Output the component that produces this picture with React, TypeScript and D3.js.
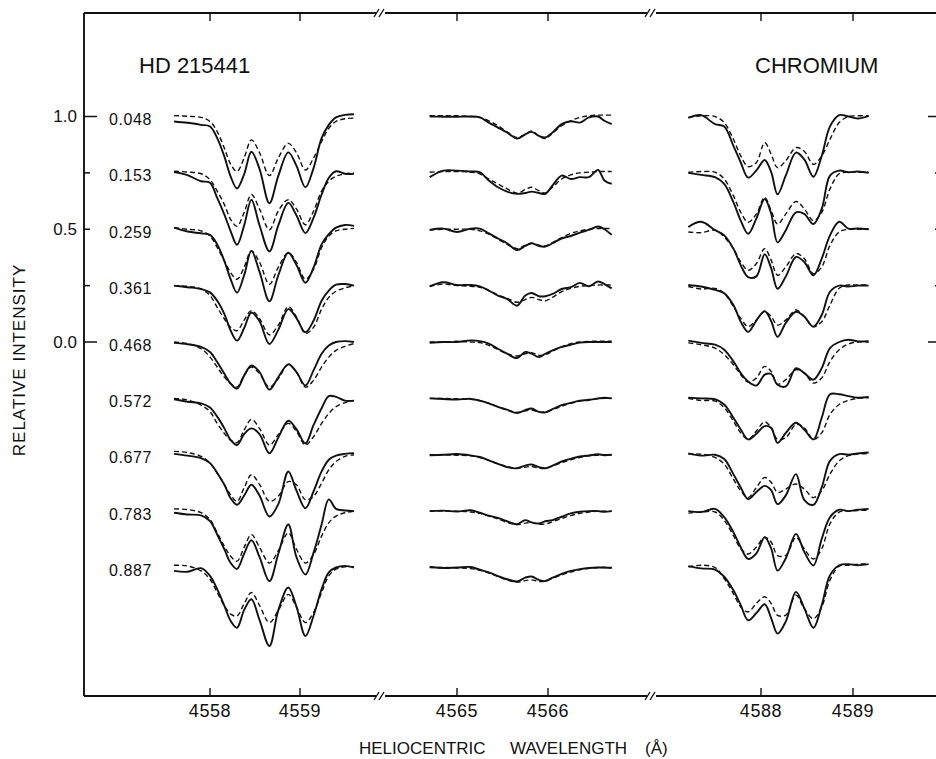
import React from 'react';
import * as d3 from 'd3';

// rotational phases, one spectrum per phase, top to bottom
const phases = ['0.048', '0.153', '0.259', '0.361', '0.468', '0.572', '0.677', '0.783', '0.887'];

// wavelength grids (Angstrom) of the three windows
const leftWave = [4557.60, 4557.75, 4557.90, 4558.00, 4558.08, 4558.16, 4558.23, 4558.30, 4558.38, 4558.46, 4558.55,
  4558.66, 4558.76, 4558.87, 4558.96, 4559.06, 4559.15, 4559.24, 4559.32, 4559.40, 4559.50, 4559.60];
const midWave = [4564.70, 4564.85, 4565.00, 4565.15, 4565.25, 4565.35, 4565.45, 4565.55, 4565.66, 4565.75, 4565.82,
  4565.90, 4565.97, 4566.05, 4566.15, 4566.25, 4566.35, 4566.45, 4566.55, 4566.62, 4566.70];
const rightWave = [4587.21, 4587.35, 4587.50, 4587.60, 4587.70, 4587.78, 4587.86, 4587.95, 4588.04, 4588.11, 4588.18,
  4588.27, 4588.38, 4588.47, 4588.57, 4588.66, 4588.75, 4588.85, 4588.95, 4589.05, 4589.17];

// observed (solid) and computed (dashed) relative intensities
const leftObs = [
  [0.978, 0.972, 0.963, 0.956, 0.904, 0.822, 0.733, 0.681, 0.745, 0.844, 0.768, 0.615, 0.738, 0.841, 0.782, 0.686, 0.770, 0.904, 0.963, 0.996, 1.007, 1.010],
  [1.004, 0.990, 0.963, 0.956, 0.889, 0.815, 0.741, 0.681, 0.768, 0.881, 0.768, 0.652, 0.768, 0.867, 0.812, 0.733, 0.800, 0.904, 0.978, 1.007, 0.996, 0.996],
  [1.007, 0.990, 0.982, 0.975, 0.933, 0.859, 0.778, 0.719, 0.797, 0.904, 0.812, 0.681, 0.797, 0.896, 0.842, 0.763, 0.830, 0.933, 0.978, 1.007, 1.019, 1.015],
  [1.000, 0.993, 0.985, 0.970, 0.933, 0.874, 0.800, 0.756, 0.812, 0.881, 0.842, 0.741, 0.805, 0.896, 0.856, 0.793, 0.844, 0.933, 0.978, 1.004, 1.007, 1.000],
  [0.996, 0.990, 0.978, 0.956, 0.911, 0.859, 0.815, 0.793, 0.852, 0.896, 0.867, 0.789, 0.845, 0.901, 0.867, 0.807, 0.874, 0.948, 0.985, 1.000, 1.004, 1.000],
  [0.996, 0.985, 0.978, 0.960, 0.919, 0.867, 0.815, 0.793, 0.842, 0.867, 0.842, 0.756, 0.827, 0.901, 0.864, 0.800, 0.881, 0.956, 1.010, 1.007, 0.990, 0.990],
  [1.004, 0.996, 0.985, 0.963, 0.919, 0.867, 0.807, 0.778, 0.819, 0.867, 0.819, 0.726, 0.782, 0.926, 0.842, 0.763, 0.837, 0.926, 0.978, 0.996, 1.004, 1.007],
  [0.993, 0.985, 0.981, 0.956, 0.896, 0.830, 0.770, 0.744, 0.812, 0.871, 0.797, 0.689, 0.812, 0.941, 0.797, 0.719, 0.815, 0.941, 1.052, 1.010, 1.003, 1.000],
  [0.985, 0.981, 0.997, 0.963, 0.904, 0.830, 0.763, 0.733, 0.812, 0.859, 0.768, 0.652, 0.812, 0.911, 0.827, 0.696, 0.785, 0.904, 0.978, 1.000, 1.007, 1.000],
];
const leftFit = [
  [1.004, 1.001, 0.996, 0.978, 0.933, 0.859, 0.788, 0.756, 0.817, 0.896, 0.840, 0.738, 0.817, 0.881, 0.840, 0.763, 0.815, 0.889, 0.948, 0.978, 0.990, 0.993],
  [1.007, 1.004, 0.996, 0.970, 0.919, 0.859, 0.793, 0.763, 0.825, 0.904, 0.840, 0.748, 0.832, 0.881, 0.840, 0.770, 0.830, 0.919, 0.963, 0.985, 0.996, 1.000],
  [1.007, 1.000, 0.993, 0.970, 0.919, 0.859, 0.807, 0.778, 0.832, 0.904, 0.854, 0.756, 0.832, 0.896, 0.854, 0.778, 0.822, 0.919, 0.970, 0.993, 1.000, 1.004],
  [1.000, 0.997, 0.985, 0.956, 0.904, 0.852, 0.815, 0.800, 0.847, 0.889, 0.854, 0.782, 0.825, 0.907, 0.862, 0.788, 0.815, 0.896, 0.948, 0.975, 0.990, 1.000],
  [1.000, 0.993, 0.970, 0.933, 0.889, 0.844, 0.815, 0.800, 0.852, 0.889, 0.860, 0.800, 0.838, 0.901, 0.867, 0.800, 0.830, 0.889, 0.933, 0.963, 0.981, 0.993],
  [1.000, 0.993, 0.970, 0.941, 0.889, 0.844, 0.815, 0.804, 0.860, 0.907, 0.867, 0.793, 0.840, 0.889, 0.854, 0.793, 0.830, 0.889, 0.933, 0.963, 0.981, 0.990],
  [1.015, 1.010, 0.993, 0.963, 0.919, 0.867, 0.822, 0.793, 0.854, 0.911, 0.869, 0.793, 0.817, 0.881, 0.867, 0.800, 0.815, 0.874, 0.933, 0.970, 0.993, 1.000],
  [1.010, 1.007, 0.993, 0.963, 0.904, 0.844, 0.800, 0.778, 0.840, 0.896, 0.840, 0.770, 0.825, 0.904, 0.832, 0.770, 0.807, 0.889, 0.948, 0.978, 0.993, 1.000],
  [1.010, 1.007, 0.985, 0.948, 0.889, 0.830, 0.793, 0.785, 0.840, 0.889, 0.832, 0.756, 0.810, 0.881, 0.825, 0.756, 0.800, 0.889, 0.963, 0.993, 1.003, 1.003],
];

const midObs = [
  [1.000, 0.999, 0.999, 1.000, 0.996, 0.973, 0.951, 0.929, 0.902, 0.921, 0.932, 0.914, 0.907, 0.929, 0.966, 0.979, 0.973, 0.996, 1.000, 0.981, 0.966],
  [0.981, 1.010, 1.010, 1.006, 1.003, 0.966, 0.936, 0.917, 0.907, 0.911, 0.917, 0.911, 0.907, 0.944, 0.988, 0.973, 0.981, 0.981, 1.013, 0.966, 0.951],
  [0.997, 1.003, 0.988, 1.003, 1.003, 0.982, 0.959, 0.938, 0.908, 0.926, 0.938, 0.926, 0.923, 0.938, 0.959, 0.970, 0.985, 0.997, 1.012, 1.000, 0.975],
  [0.997, 1.015, 1.003, 1.003, 0.997, 0.978, 0.956, 0.941, 0.911, 0.956, 0.967, 0.953, 0.953, 0.963, 0.985, 0.993, 1.012, 0.997, 1.018, 1.007, 0.988],
  [0.997, 1.000, 1.000, 1.007, 1.004, 0.993, 0.970, 0.948, 0.929, 0.956, 0.948, 0.933, 0.948, 0.963, 0.978, 0.988, 0.997, 1.000, 1.000, 1.000, 1.000],
  [1.000, 0.997, 0.995, 0.998, 0.990, 0.978, 0.962, 0.950, 0.935, 0.948, 0.955, 0.940, 0.938, 0.952, 0.970, 0.980, 0.990, 0.993, 1.000, 1.003, 1.000],
  [0.998, 1.000, 1.003, 0.997, 0.990, 0.975, 0.960, 0.945, 0.940, 0.952, 0.957, 0.945, 0.940, 0.952, 0.970, 0.982, 0.992, 0.997, 1.002, 0.998, 1.000],
  [1.000, 1.002, 0.998, 1.004, 0.993, 0.980, 0.970, 0.955, 0.942, 0.960, 0.950, 0.945, 0.955, 0.960, 0.975, 0.990, 0.997, 1.000, 1.000, 0.997, 1.000],
  [1.002, 0.998, 1.000, 1.002, 0.990, 0.978, 0.962, 0.948, 0.938, 0.955, 0.960, 0.945, 0.940, 0.955, 0.972, 0.985, 0.993, 0.998, 1.000, 1.000, 0.998],
];
const midFit = [
  [1.003, 1.003, 1.003, 1.000, 0.996, 0.981, 0.959, 0.932, 0.907, 0.921, 0.936, 0.914, 0.902, 0.926, 0.959, 0.981, 0.996, 1.003, 1.006, 1.006, 1.006],
  [1.003, 1.006, 1.006, 1.003, 0.996, 0.973, 0.951, 0.929, 0.910, 0.926, 0.936, 0.921, 0.911, 0.936, 0.973, 0.991, 1.000, 1.003, 1.006, 1.006, 1.006],
  [0.997, 1.000, 1.000, 1.000, 0.993, 0.978, 0.956, 0.933, 0.914, 0.929, 0.938, 0.929, 0.926, 0.941, 0.963, 0.982, 0.993, 1.000, 1.003, 1.003, 1.003],
  [0.997, 1.007, 1.000, 0.997, 0.993, 0.978, 0.959, 0.944, 0.926, 0.938, 0.948, 0.938, 0.933, 0.948, 0.973, 0.988, 0.997, 1.000, 1.003, 1.003, 1.003],
  [1.000, 1.000, 1.003, 1.000, 0.997, 0.985, 0.967, 0.948, 0.938, 0.948, 0.953, 0.941, 0.944, 0.959, 0.978, 0.993, 1.000, 1.003, 1.003, 1.003, 1.003],
  [1.000, 1.000, 0.998, 0.996, 0.990, 0.978, 0.963, 0.948, 0.938, 0.945, 0.948, 0.940, 0.940, 0.950, 0.965, 0.978, 0.988, 0.995, 0.998, 1.000, 1.000],
  [1.000, 1.000, 0.998, 0.995, 0.988, 0.975, 0.960, 0.948, 0.940, 0.945, 0.948, 0.940, 0.940, 0.950, 0.965, 0.978, 0.988, 0.995, 0.998, 1.000, 1.000],
  [1.000, 1.000, 1.000, 0.996, 0.990, 0.978, 0.965, 0.950, 0.940, 0.947, 0.950, 0.942, 0.943, 0.953, 0.967, 0.980, 0.990, 0.996, 1.000, 1.000, 1.000],
  [1.000, 1.000, 0.998, 0.995, 0.988, 0.975, 0.960, 0.945, 0.935, 0.942, 0.945, 0.938, 0.940, 0.952, 0.967, 0.980, 0.990, 0.996, 1.000, 1.000, 1.000],
];

const rightObs = [
  [0.994, 1.006, 0.966, 0.956, 0.870, 0.796, 0.729, 0.761, 0.807, 0.754, 0.655, 0.739, 0.840, 0.810, 0.733, 0.825, 0.956, 1.006, 1.000, 0.991, 1.003],
  [1.000, 0.991, 0.981, 0.951, 0.870, 0.788, 0.730, 0.798, 0.884, 0.820, 0.692, 0.746, 0.825, 0.818, 0.773, 0.840, 0.988, 1.010, 1.003, 1.006, 1.000],
  [1.010, 1.033, 0.996, 0.973, 0.914, 0.840, 0.788, 0.791, 0.889, 0.828, 0.736, 0.791, 0.877, 0.855, 0.796, 0.870, 0.973, 1.033, 1.003, 1.003, 1.000],
  [1.003, 0.996, 0.981, 0.966, 0.914, 0.840, 0.795, 0.845, 0.887, 0.843, 0.773, 0.835, 0.884, 0.863, 0.818, 0.870, 0.973, 1.000, 0.996, 1.000, 1.000],
  [1.006, 0.996, 0.988, 0.966, 0.914, 0.862, 0.825, 0.807, 0.855, 0.858, 0.810, 0.803, 0.884, 0.862, 0.833, 0.884, 0.973, 1.000, 1.010, 1.003, 1.003],
  [1.003, 1.000, 0.996, 0.973, 0.914, 0.862, 0.818, 0.843, 0.877, 0.870, 0.803, 0.847, 0.892, 0.862, 0.818, 0.914, 1.018, 1.018, 1.010, 1.003, 1.006],
  [1.006, 0.996, 1.000, 0.981, 0.914, 0.855, 0.803, 0.835, 0.862, 0.843, 0.781, 0.820, 0.914, 0.800, 0.778, 0.855, 0.973, 1.003, 1.000, 1.006, 1.010],
  [1.000, 0.996, 1.010, 0.973, 0.907, 0.840, 0.788, 0.813, 0.884, 0.835, 0.736, 0.791, 0.899, 0.820, 0.759, 0.877, 0.973, 1.006, 1.000, 1.006, 1.010],
  [1.006, 0.996, 0.991, 0.959, 0.899, 0.833, 0.766, 0.798, 0.837, 0.776, 0.707, 0.761, 0.892, 0.820, 0.733, 0.833, 0.966, 1.010, 1.015, 1.010, 1.015],
];
const rightFit = [
  [0.996, 1.003, 1.000, 0.973, 0.899, 0.825, 0.778, 0.796, 0.884, 0.833, 0.773, 0.804, 0.862, 0.846, 0.788, 0.825, 0.899, 0.973, 1.000, 1.003, 1.003],
  [1.003, 1.006, 1.003, 0.973, 0.899, 0.825, 0.781, 0.818, 0.892, 0.833, 0.773, 0.818, 0.873, 0.841, 0.788, 0.825, 0.929, 0.996, 1.003, 1.003, 1.003],
  [0.988, 0.985, 0.996, 0.966, 0.914, 0.855, 0.818, 0.848, 0.914, 0.863, 0.796, 0.833, 0.892, 0.870, 0.803, 0.833, 0.929, 0.988, 1.000, 1.000, 1.000],
  [0.996, 0.985, 0.988, 0.966, 0.907, 0.855, 0.818, 0.848, 0.884, 0.863, 0.825, 0.848, 0.892, 0.863, 0.818, 0.840, 0.914, 0.988, 1.003, 1.003, 1.003],
  [0.996, 0.988, 0.973, 0.944, 0.899, 0.855, 0.822, 0.841, 0.892, 0.870, 0.813, 0.833, 0.877, 0.863, 0.818, 0.840, 0.914, 0.966, 0.991, 1.000, 1.000],
  [1.000, 0.991, 0.988, 0.959, 0.899, 0.847, 0.818, 0.855, 0.896, 0.870, 0.818, 0.826, 0.884, 0.870, 0.818, 0.847, 0.929, 0.973, 0.991, 1.000, 1.003],
  [1.003, 1.003, 0.988, 0.959, 0.892, 0.840, 0.810, 0.855, 0.899, 0.878, 0.833, 0.848, 0.870, 0.848, 0.810, 0.840, 0.914, 0.973, 0.996, 1.003, 1.006],
  [0.991, 0.996, 0.996, 0.959, 0.892, 0.833, 0.810, 0.841, 0.884, 0.863, 0.803, 0.804, 0.884, 0.833, 0.788, 0.833, 0.944, 0.996, 1.000, 1.003, 1.003],
  [1.003, 1.010, 1.000, 0.951, 0.884, 0.825, 0.803, 0.841, 0.870, 0.841, 0.788, 0.789, 0.877, 0.818, 0.773, 0.825, 0.944, 1.006, 1.010, 1.015, 1.015],
];

// axis ticks
const leftTicks = [4558, 4559];
const midTicks = [4565, 4566];
const rightTicks = [4588, 4589];
const yTicks = [1.0, 0.75, 0.5, 0.25, 0.0];
const yTickLabels = [1.0, 0.5, 0.0];

const STEP = 0.25; // vertical shift between consecutive phases

const W = 936;
const H = 759;
const LEFT = 84;
const RIGHT = 941;
const TOP = 13;
const BOTTOM = 696;
const BREAKS = [380, 651];
const FONT = '"Liberation Sans", Arial, Helvetica, sans-serif';

const yScale = d3.scaleLinear().domain([0, 1]).range([342, 116.5]);

const panels = [
  { key: 'l', wave: leftWave, obs: leftObs, fit: leftFit, ticks: leftTicks,
    x: d3.scaleLinear().domain([4558, 4559]).range([210, 300]) },
  { key: 'm', wave: midWave, obs: midObs, fit: midFit, ticks: midTicks,
    x: d3.scaleLinear().domain([4565, 4566]).range([457, 548]) },
  { key: 'r', wave: rightWave, obs: rightObs, fit: rightFit, ticks: rightTicks,
    x: d3.scaleLinear().domain([4588, 4589]).range([761, 853]) },
];

// frame pieces between the axis breaks
function brokenLine() {
  const segs = [];
  let start = LEFT;
  BREAKS.forEach((b) => {
    segs.push([start, b - 4]);
    start = b + 5;
  });
  segs.push([start, RIGHT]);
  return segs;
}

export default function App() {
  const ink = '#111';

  return (
    <svg width={W} height={H} style={{ position: 'absolute', left: 0, top: 0, background: '#fff' }}
      fontFamily={FONT}>
      <rect width={W} height={H} fill="#fff" />

      {[TOP, BOTTOM].map(y => (
        <g key={'f' + y}>
          {brokenLine().map(([a, b]) => (
            <line key={a} x1={a} x2={b} y1={y} y2={y} stroke={ink} strokeWidth={1.9} />
          ))}
          {BREAKS.map(b => (
            <g key={b}>
              <line x1={b - 6} y1={y + 4} x2={b - 1} y2={y - 4} stroke={ink} strokeWidth={1.4} />
              <line x1={b - 1} y1={y + 4} x2={b + 4} y2={y - 4} stroke={ink} strokeWidth={1.4} />
            </g>
          ))}
        </g>
      ))}
      <line x1={LEFT} x2={LEFT} y1={TOP} y2={BOTTOM} stroke={ink} strokeWidth={1.9} />
      <line x1={RIGHT} x2={RIGHT} y1={TOP} y2={BOTTOM} stroke={ink} strokeWidth={1.9} />

      {yTicks.map(t => {
        const long = t === 1 || t === 0;
        const len = long ? 13 : 6;
        const y = yScale(t);
        return (
          <g key={'yt' + t}>
            <line x1={LEFT} x2={LEFT + len} y1={y} y2={y} stroke={ink} strokeWidth={1.5} />
            <line x1={RIGHT - len} x2={RIGHT} y1={y} y2={y} stroke={ink} strokeWidth={1.5} />
          </g>
        );
      })}
      {yTickLabels.map(t => (
        <text key={'yl' + t} x={77} y={yScale(t)} dy="0.35em" textAnchor="end" fontSize={17} fill={ink}>
          {t.toFixed(1)}
        </text>
      ))}

      {panels.map(p => p.ticks.map(t => (
        <g key={p.key + t}>
          <line x1={p.x(t)} x2={p.x(t)} y1={BOTTOM} y2={BOTTOM - 8} stroke={ink} strokeWidth={1.4} />
          <line x1={p.x(t)} x2={p.x(t)} y1={TOP} y2={TOP + 8} stroke={ink} strokeWidth={1.4} />
          <text x={p.x(t)} y={717} textAnchor="middle" fontSize={18} letterSpacing={0.6} fill={ink}>{t}</text>
        </g>
      )))}

      {panels.map(p => phases.map((ph, i) => {
        const line = d3.line<number>()
          .x((_, k) => p.x(p.wave[k]))
          .y(v => yScale(v - STEP * i))
          .curve(d3.curveCatmullRom.alpha(0.5));
        return (
          <g key={p.key + ph}>
            <path d={line(p.fit[i]) || ''} fill="none" stroke={ink} strokeWidth={1.4} strokeDasharray="5,3" />
            <path d={line(p.obs[i]) || ''} fill="none" stroke={ink} strokeWidth={1.9} />
          </g>
        );
      }))}

      {phases.map((ph, i) => (
        <text key={'p' + ph} x={109} y={yScale(1 - STEP * i) + 3} dy="0.35em" fontSize={16}
          letterSpacing={0.6} fill={ink}>{ph}</text>
      ))}

      <text x={139} y={73} fontSize={22} fill={ink}>HD 215441</text>
      <text x={755} y={73} fontSize={22} fill={ink}>CHROMIUM</text>

      <text x={359} y={754} fontSize={17} fill={ink}>HELIOCENTRIC</text>
      <text x={510} y={754} fontSize={17} fill={ink}>WAVELENGTH</text>
      <text x={645} y={754} fontSize={17} fill={ink}>(Å)</text>

      <text transform="translate(25,360) rotate(-90)" textAnchor="middle" fontSize={17} letterSpacing={1}
        fill={ink}>RELATIVE  INTENSITY</text>
    </svg>
  );
}
